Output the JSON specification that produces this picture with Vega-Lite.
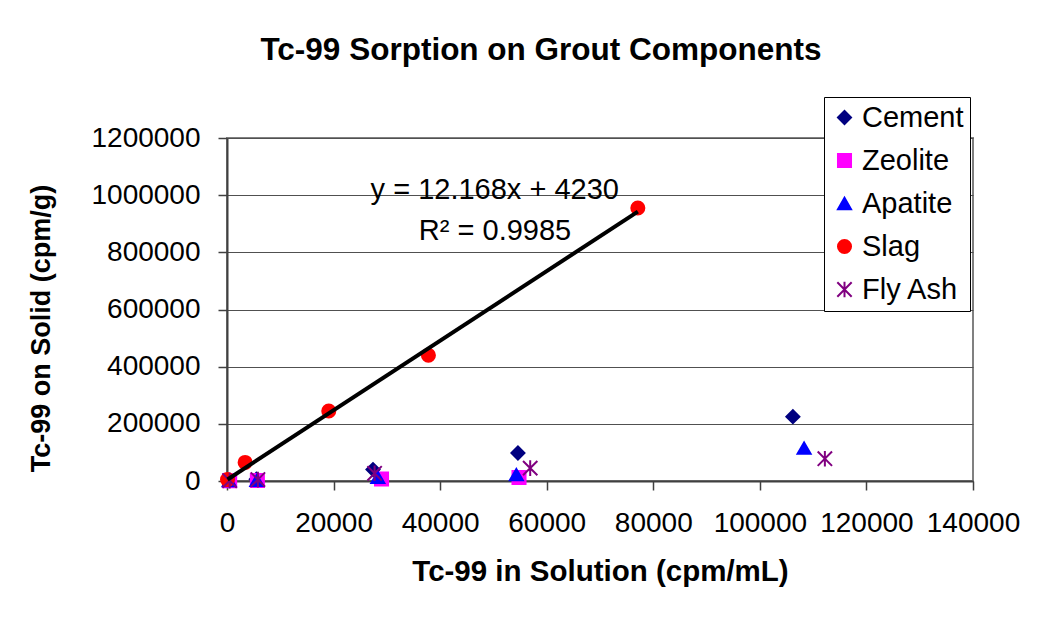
{
  "$schema": "https://vega.github.io/schema/vega-lite/v6.json",
  "width": 746,
  "height": 343,
  "autosize": {"type": "none"},
  "padding": {"left": 227, "top": 138, "right": 84, "bottom": 140},
  "background": "white",
  "config": {
    "font": "Liberation Sans",
    "view": {"stroke": "#808080", "strokeWidth": 2}
  },
  "title": {
    "text": "Tc-99 Sorption on Grout Components",
    "fontSize": 31.5,
    "fontWeight": "bold",
    "color": "black",
    "anchor": "middle",
    "frame": "group",
    "dx": -59,
    "offset": 30
  },
  "datasets": {
    "points": [
      {"Material": "Cement", "x": 400, "y": 2000},
      {"Material": "Cement", "x": 5500, "y": 6000},
      {"Material": "Cement", "x": 27400, "y": 40000},
      {"Material": "Cement", "x": 54600, "y": 98000},
      {"Material": "Cement", "x": 106200, "y": 225000},
      {"Material": "Zeolite", "x": 500, "y": 1000},
      {"Material": "Zeolite", "x": 5700, "y": 2000},
      {"Material": "Zeolite", "x": 29000, "y": 7000},
      {"Material": "Zeolite", "x": 54800, "y": 12000},
      {"Material": "Apatite", "x": 400, "y": 1000},
      {"Material": "Apatite", "x": 5600, "y": 2000},
      {"Material": "Apatite", "x": 28300, "y": 13000},
      {"Material": "Apatite", "x": 54300, "y": 22000},
      {"Material": "Apatite", "x": 108300, "y": 115000},
      {"Material": "Slag", "x": 100, "y": 5000},
      {"Material": "Slag", "x": 3400, "y": 65000},
      {"Material": "Slag", "x": 19100, "y": 245000},
      {"Material": "Slag", "x": 37800, "y": 440000},
      {"Material": "Slag", "x": 77100, "y": 955000},
      {"Material": "Fly Ash", "x": 500, "y": 1500},
      {"Material": "Fly Ash", "x": 5800, "y": 5000},
      {"Material": "Fly Ash", "x": 27700, "y": 27000},
      {"Material": "Fly Ash", "x": 56900, "y": 45000},
      {"Material": "Fly Ash", "x": 112200, "y": 78000}
    ],
    "trend": [
      {"x": 100, "y": 5400},
      {"x": 77100, "y": 942400}
    ],
    "notes": [
      {"x": 50250, "y": 988000, "t": "y = 12.168x + 4230"},
      {"x": 50300, "y": 844000, "t": "R² = 0.9985"}
    ]
  },
  "layer": [
    {
      "data": {"name": "points"},
      "mark": {"type": "point", "filled": true, "size": 170, "strokeWidth": 2, "opacity": 1},
      "encoding": {
        "x": {
          "field": "x", "type": "quantitative",
          "scale": {"domain": [0, 140000], "nice": false, "zero": false},
          "axis": {
            "title": "Tc-99 in Solution (cpm/mL)",
            "titleFontSize": 29.5, "titleFontWeight": "bold", "titleColor": "black",
            "titleBaseline": "alphabetic", "titleY": 99,
            "labelFontSize": 28, "labelColor": "black", "labelPadding": 19,
            "labelFlush": false, "labelOverlap": false,
            "format": "d",
            "values": [0, 20000, 40000, 60000, 80000, 100000, 120000, 140000],
            "grid": false,
            "domainColor": "#404040", "domainWidth": 2,
            "tickColor": "#404040", "tickSize": 9, "tickWidth": 1.5
          }
        },
        "y": {
          "field": "y", "type": "quantitative",
          "scale": {"domain": [0, 1200000], "nice": false, "zero": false},
          "axis": {
            "title": "Tc-99 on Solid (cpm/g)",
            "titleFontSize": 27, "titleFontWeight": "bold", "titleColor": "black",
            "titleAngle": -90, "titleAlign": "center", "titleBaseline": "alphabetic",
            "titleX": -178, "titleY": 190,
            "labelFontSize": 28, "labelColor": "black", "labelPadding": 18,
            "labelFlush": false, "labelOverlap": false,
            "format": "d",
            "values": [0, 200000, 400000, 600000, 800000, 1000000, 1200000],
            "grid": true, "gridColor": "#505050", "gridWidth": 1,
            "domainColor": "#404040", "domainWidth": 2,
            "tickColor": "#404040", "tickSize": 9, "tickWidth": 1.5
          }
        },
        "fill": {
          "field": "Material", "type": "nominal",
          "scale": {
            "domain": ["Cement", "Zeolite", "Apatite", "Slag", "Fly Ash"],
            "range": ["#000080", "#FF00FF", "#0000FF", "#FF0000", "#800080"]
          },
          "legend": {
            "title": null, "orient": "none", "legendX": 597, "legendY": -41,
            "labelFontSize": 29, "labelColor": "black", "labelOffset": 3,
            "symbolSize": 170, "symbolStrokeWidth": 2,
            "rowPadding": 13, "padding": 6,
            "strokeColor": "black", "fillColor": "white"
          }
        },
        "stroke": {
          "field": "Material", "type": "nominal",
          "scale": {
            "domain": ["Cement", "Zeolite", "Apatite", "Slag", "Fly Ash"],
            "range": ["#000080", "#FF00FF", "#0000FF", "#FF0000", "#800080"]
          },
          "legend": {
            "title": null, "orient": "none", "legendX": 597, "legendY": -41,
            "labelFontSize": 29, "labelColor": "black", "labelOffset": 3,
            "symbolSize": 170, "symbolStrokeWidth": 2,
            "rowPadding": 13, "padding": 6,
            "strokeColor": "black", "fillColor": "white"
          }
        },
        "shape": {
          "field": "Material", "type": "nominal",
          "scale": {
            "domain": ["Cement", "Zeolite", "Apatite", "Slag", "Fly Ash"],
            "range": ["diamond", "square", "triangle-up", "circle", "M0,-1.2L0,1.2M-1.1,-1.1L1.1,1.1M-1.1,1.1L1.1,-1.1"]
          },
          "legend": {
            "title": null, "orient": "none", "legendX": 597, "legendY": -41,
            "labelFontSize": 29, "labelColor": "black", "labelOffset": 3,
            "symbolSize": 170, "symbolStrokeWidth": 2,
            "rowPadding": 13, "padding": 6,
            "strokeColor": "black", "fillColor": "white"
          }
        }
      }
    },
    {
      "data": {"name": "trend"},
      "mark": {"type": "line", "color": "black", "strokeWidth": 4},
      "encoding": {
        "x": {"field": "x", "type": "quantitative"},
        "y": {"field": "y", "type": "quantitative"}
      }
    },
    {
      "data": {"name": "notes"},
      "mark": {"type": "text", "fontSize": 29, "align": "center", "baseline": "alphabetic", "color": "black"},
      "encoding": {
        "x": {"field": "x", "type": "quantitative"},
        "y": {"field": "y", "type": "quantitative"},
        "text": {"field": "t", "type": "nominal"}
      }
    }
  ]
}
